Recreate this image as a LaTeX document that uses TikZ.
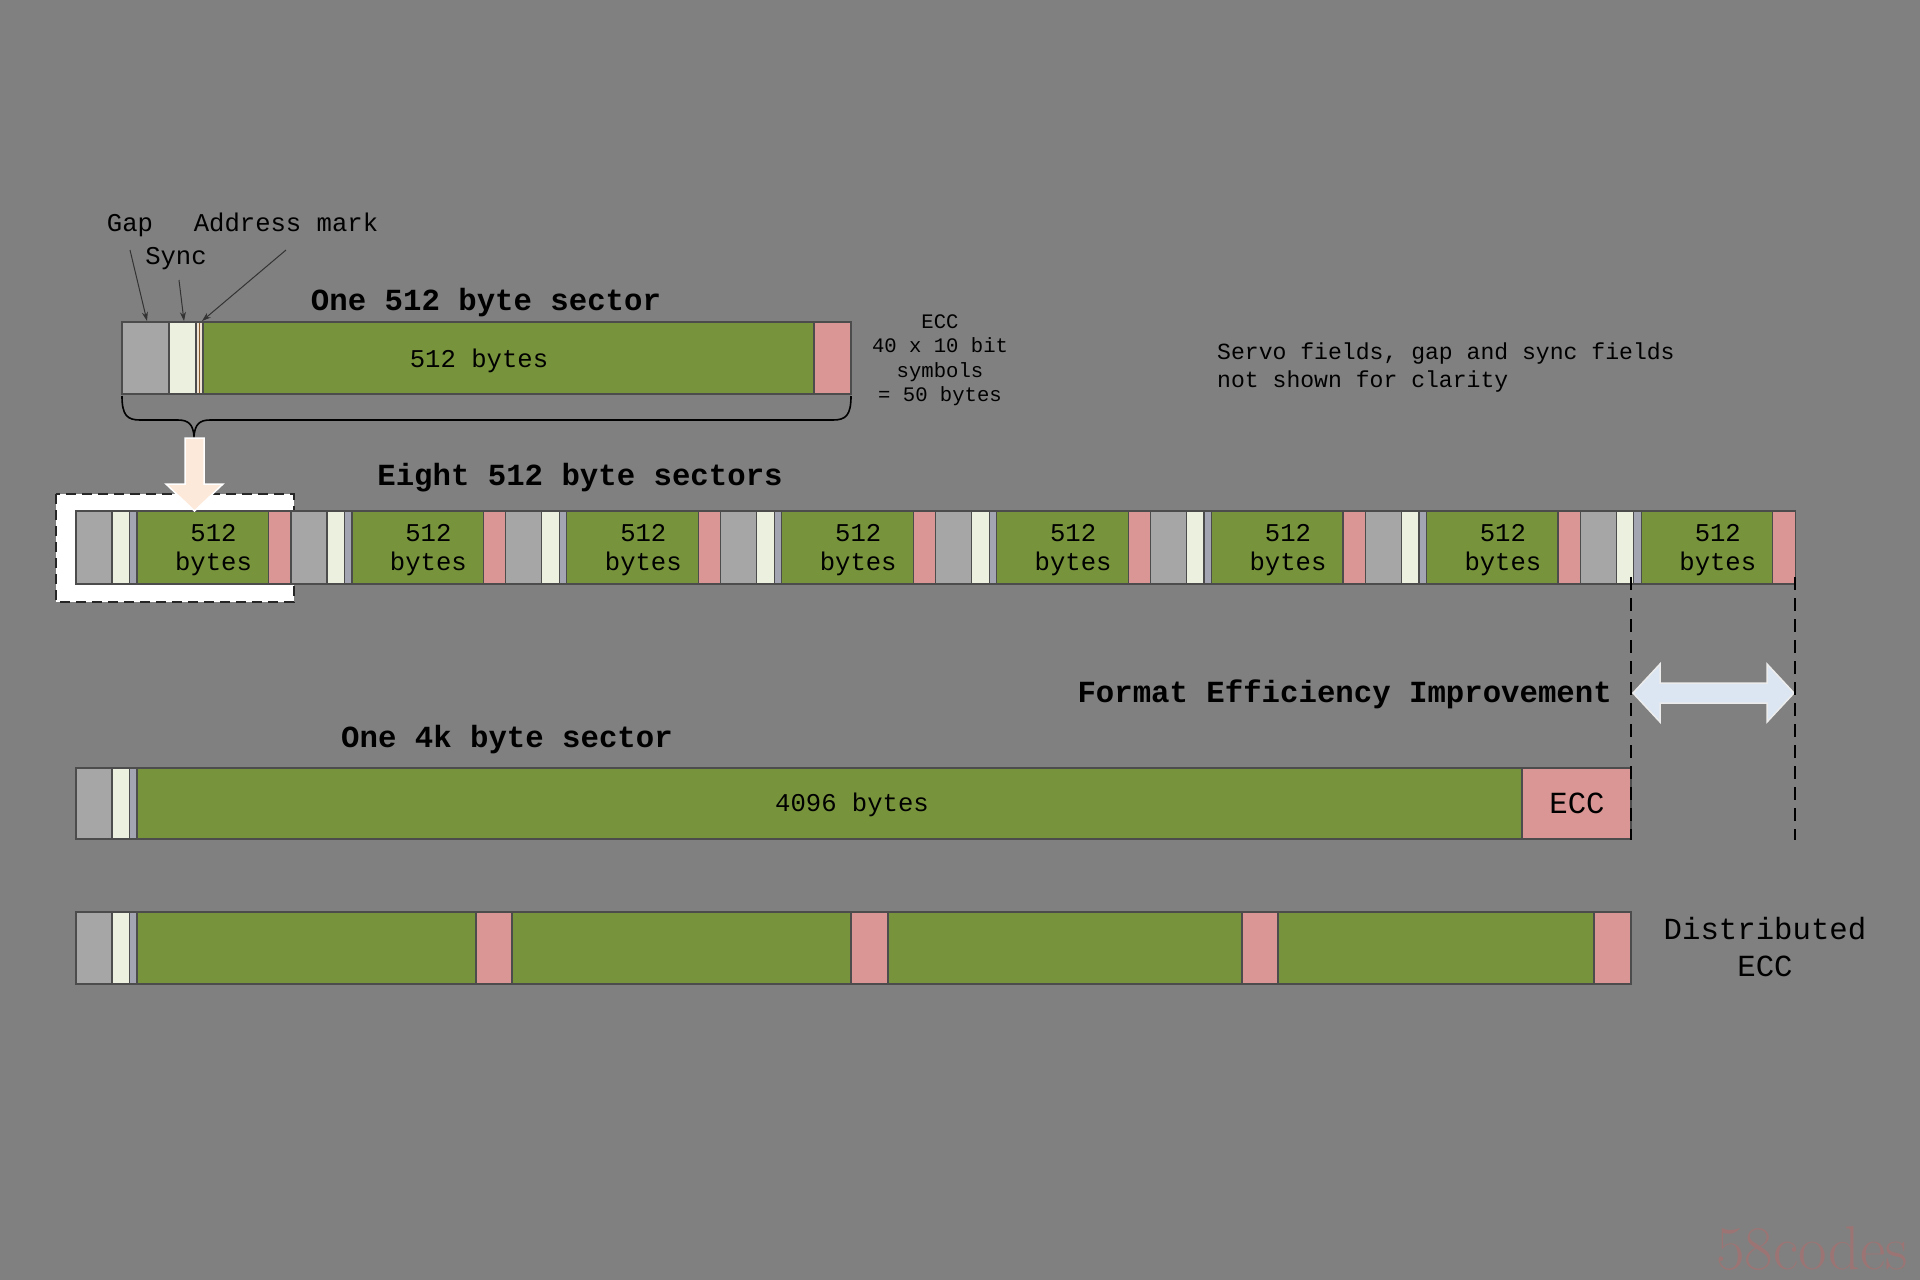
\documentclass[tikz,border=0pt]{standalone}
\usepackage{fontspec}
\setmonofont{Liberation Mono}
\usetikzlibrary{arrows.meta}
\definecolor{bg}{HTML}{808080}
\definecolor{cgap}{HTML}{A6A6A6}
\definecolor{csync}{HTML}{EBF1DE}
\definecolor{cthin}{HTML}{A3A6B2}
\definecolor{caddr}{HTML}{EFE4D4}
\definecolor{cgreen}{HTML}{77933C}
\definecolor{cpink}{HTML}{D99694}
\definecolor{cpeach}{HTML}{FDE9D9}
\definecolor{cblue}{HTML}{DCE6F2}
\definecolor{wmark}{HTML}{A87070}
\tikzset{
  fld/.style={draw=black!70, line width=1.2pt},
  txt/.style={font=\ttfamily\fontsize{25.6}{29.5}\selectfont, inner sep=0pt, text=black, align=center},
  ttl/.style={font=\ttfamily\bfseries\fontsize{30.7}{36}\selectfont, inner sep=0pt, text=black},
  big/.style={font=\ttfamily\fontsize{30.7}{36.5}\selectfont, inner sep=0pt, text=black, align=center},
  note/.style={font=\ttfamily\fontsize{23.1}{28}\selectfont, inner sep=0pt, text=black, align=left},
  small/.style={font=\ttfamily\fontsize{20.6}{24.5}\selectfont, inner sep=0pt, text=black, align=center},
  ptr/.style={draw=black!80, line width=1pt, -{Stealth[length=9pt,width=6pt]}},
  vdash/.style={draw=black, line width=2.8pt, dash pattern=on 13pt off 8pt},
}
\begin{document}
\begin{tikzpicture}[x=1pt,y=-1pt]
\useasboundingbox (0,0) rectangle (1920,1280);
\fill[bg] (0,0) rectangle (1920,1280);

% ---------- One 512 byte sector ----------
\filldraw[fld, fill=cgap]   (122,322) rectangle (169,394);
\filldraw[fld, fill=csync]  (169,322) rectangle (196,394);
\filldraw[fld, draw=black!70, fill=caddr] (196,322) rectangle (203,394);
\draw[draw=brown!70!black, line width=1pt] (199,323) -- (199,393);
\filldraw[fld, fill=cgreen] (203,322) rectangle (814,394);
\filldraw[fld, fill=cpink]  (814,322) rectangle (851,394);
\node[txt] (onebytes) at (479,360.5) {512 bytes};
\node[ttl] (t1) at (486,302.5) {One 512 byte sector};

\node[txt, anchor=mid] (gap) at (130,229) {Gap};
\node[txt, anchor=mid] (addr) at (286,229) {Address mark};
\node[txt, anchor=mid] (sync) at (176,262) {Sync};
\coordinate (gapS) at (130,250);
\coordinate (gapT) at (147,321);
\coordinate (syncS) at (179,280);
\coordinate (syncT) at (184,321);
\coordinate (addrS) at (286,250);
\coordinate (addrT) at (202,321);
\draw[ptr] (gapS) -- (gapT);
\draw[ptr] (syncS) -- (syncT);
\draw[ptr] (addrS) -- (addrT);

\node[small] (ecclbl) at (940,360) {ECC\\40 x 10 bit\\symbols\\= 50 bytes};
\node[note, anchor=west] (servo) at (1217,367.5) {Servo fields, gap and sync fields\\not shown for clarity};

% brace
\draw[black, line width=1.6pt]
  (122,396) .. controls (122,415) and (127,420) .. (140,420) -- (178,420)
  .. controls (189,420) and (193,425) .. (194,436)
  .. controls (195,425) and (199,420) .. (210,420) -- (833,420)
  .. controls (846,420) and (851,415) .. (851,396);

% ---------- Eight 512 byte sectors ----------
\node[ttl] (t2) at (580,477.5) {Eight 512 byte sectors};
\filldraw[fill=white, draw=black!85, line width=2.2pt, dash pattern=on 10pt off 6pt] (56,494) rectangle (294,602);
\foreach \i in {0,...,7} {
  \pgfmathsetmacro\xs{76+\i*214.9}
  \filldraw[fld, fill=cgap]   (\xs,511) rectangle ++(36,73);
  \filldraw[fld, fill=csync]  (\xs+36,511) rectangle ++(17.5,73);
  \filldraw[fld, fill=cthin]  (\xs+53.5,511) rectangle ++(7.5,73);
  \filldraw[fld, fill=cgreen] (\xs+61,511) rectangle ++(131.5,73);
  \filldraw[fld, fill=cpink]  (\xs+192.5,511) rectangle ++(22.4,73);
  \node[txt] (sec\i) at (\xs+137.5,550) {512\\bytes};
}

% block arrow down
\filldraw[fill=cpeach, draw=white, line width=1.5pt]
  (185,438) -- (204,438) -- (204,484) -- (223,484) -- (194.5,511)
  -- (166,484) -- (185,484) -- cycle;

% ---------- efficiency ----------
\coordinate (dA1) at (1631,577);
\coordinate (dA2) at (1631,840);
\coordinate (dB1) at (1795,577);
\coordinate (dB2) at (1795,840);
\node[ttl, anchor=east] (fmt) at (1612,694.5) {Format Efficiency Improvement};
\filldraw[fill=cblue, draw=white!85!gray, line width=1.5pt]
  (1633,693) -- (1660,664) -- (1660,683) -- (1767,683) -- (1767,664)
  -- (1794,693) -- (1767,722) -- (1767,703) -- (1660,703) -- (1660,722) -- cycle;

% ---------- One 4k byte sector ----------
\node[ttl] (t3) at (507,739.5) {One 4k byte sector};
\filldraw[fld, fill=cgap]   (76,768) rectangle (112,839);
\filldraw[fld, fill=csync]  (112,768) rectangle (129.5,839);
\filldraw[fld, fill=cthin]  (129.5,768) rectangle (137,839);
\filldraw[fld, fill=cgreen] (137,768) rectangle (1522,839);
\filldraw[fld, fill=cpink]  (1522,768) rectangle (1631,839);
\node[txt] (kbytes) at (852,804.5) {4096 bytes};
\node[big] (kecc) at (1577,803) {ECC};

\draw[vdash] (dA1) -- (dA2);
\draw[vdash] (dB1) -- (dB2);

% ---------- Distributed ECC ----------
\filldraw[fld, fill=cgap]   (76,912) rectangle (112,984);
\filldraw[fld, fill=csync]  (112,912) rectangle (129.5,984);
\filldraw[fld, fill=cthin]  (129.5,912) rectangle (137,984);
\filldraw[fld, fill=cgreen] (137,912) rectangle (1631,984);
\filldraw[fld, fill=cpink]  (476,912) rectangle (512,984);
\filldraw[fld, fill=cpink]  (851,912) rectangle (888,984);
\filldraw[fld, fill=cpink]  (1242,912) rectangle (1278,984);
\filldraw[fld, fill=cpink]  (1594,912) rectangle (1631,984);
\node[big] (dist) at (1765,947) {Distributed\\ECC};

% watermark
\node[font=\fontsize{62}{66}\selectfont, text=wmark, text opacity=0.7, inner sep=0pt] (wm) at (1812,1248) {58codes};
\end{tikzpicture}
\end{document}
